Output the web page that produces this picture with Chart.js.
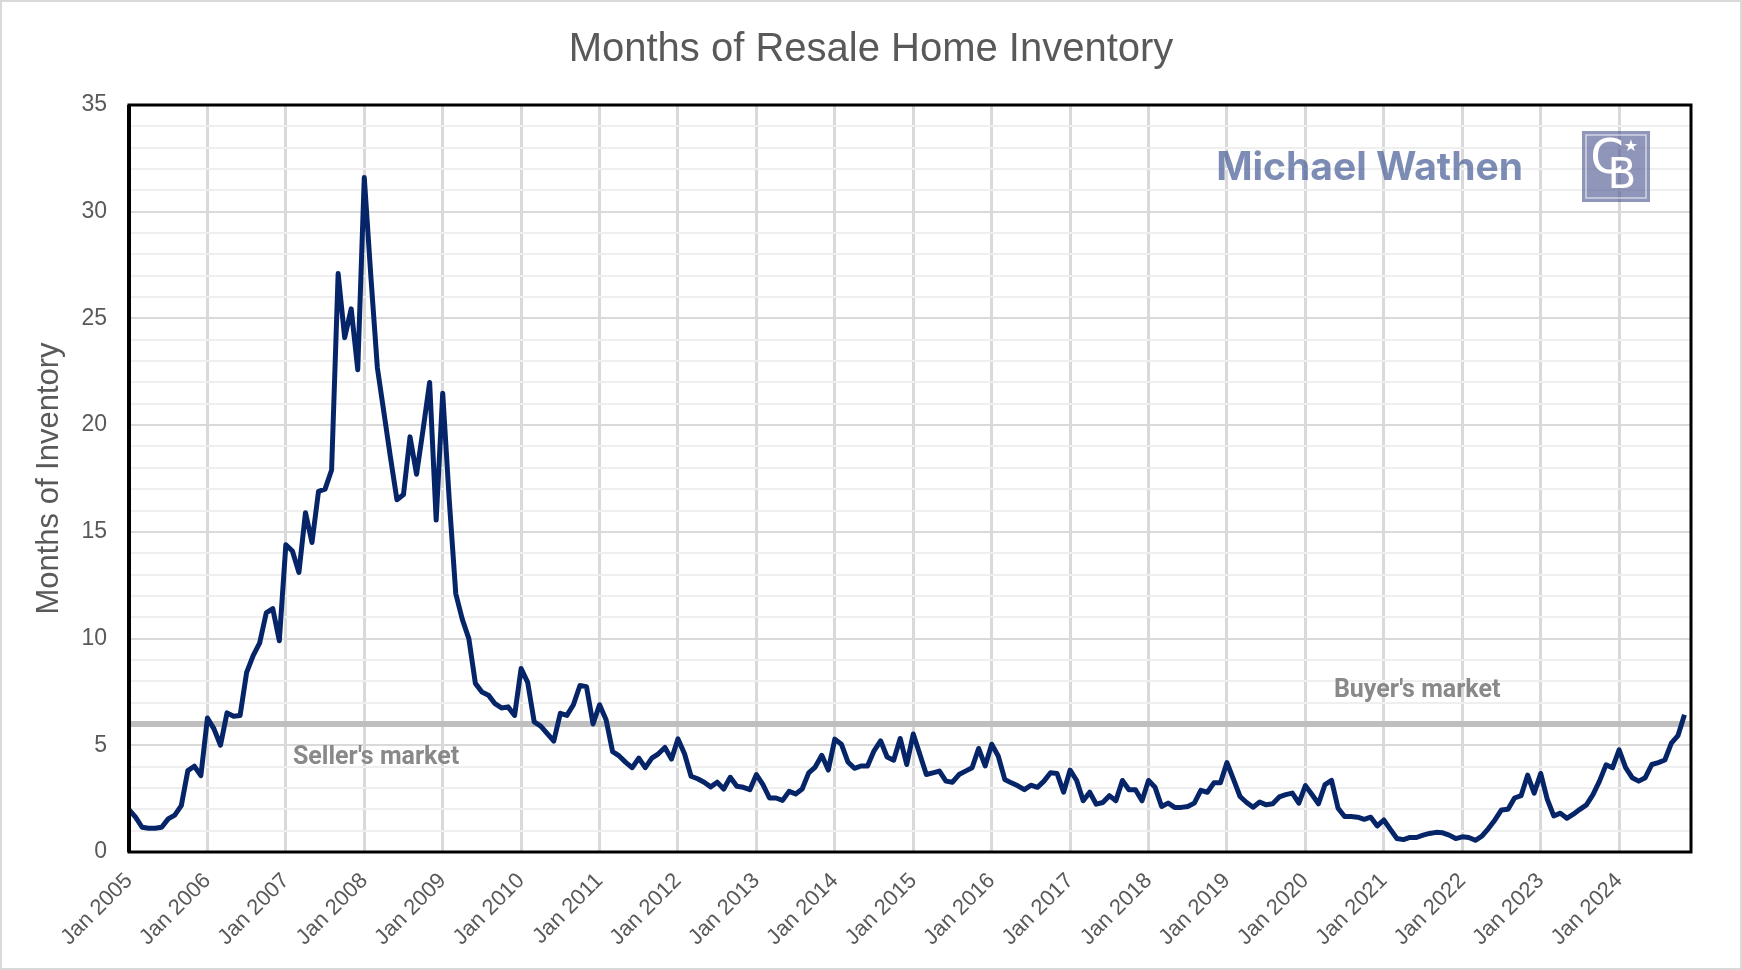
<!DOCTYPE html>
<html>
<head>
<meta charset="utf-8">
<title>Months of Resale Home Inventory</title>
<script src="https://cdn.jsdelivr.net/npm/chart.js@4.4.1/dist/chart.umd.min.js"></script>
<style>
body { margin: 0; background: #fff; }
#wrap { width: 1742px; height: 970px; position: relative; }
</style>
</head>
<body>
<div id="wrap"><canvas id="inventoryGraph" width="1742" height="970"></canvas></div>
<script>
// data, one value per month from Jan 2005
const monthNames = ['Jan','Feb','Mar','Apr','May','Jun','Jul','Aug','Sep','Oct','Nov','Dec'];
const years = [2005,2006,2007,2008,2009,2010,2011,2012,2013,2014,2015,2016,2017,2018,2019,2020,2021,2022,2023,2024];

const inv2005_2009 = [
    1.98, 1.63, 1.16, 1.11, 1.11, 1.16, 1.55, 1.73, 2.17, 3.81, 4.02, 3.58,
    6.28, 5.77, 5.00, 6.52, 6.36, 6.40, 8.42, 9.20, 9.80, 11.2, 11.4, 9.90,
    14.4, 14.1, 13.1, 15.9, 14.5, 16.9, 17.0, 17.9, 27.1, 24.1, 25.45, 22.6,
    31.6, 27.0, 22.7, 20.6, 18.5, 16.5, 16.75, 19.45, 17.7, 19.8, 22.0, 15.55,
    21.5, 16.5, 12.1, 10.9, 10.0, 7.9, 7.5, 7.35, 6.95, 6.75, 6.8, 6.4
];
const inv2010_2014 = [
    8.6, 7.95, 6.1, 5.9, 5.55, 5.2, 6.5, 6.4, 6.9, 7.8, 7.75, 6.0,
    6.9, 6.2, 4.7, 4.5, 4.2, 3.95, 4.4, 3.95, 4.4, 4.6, 4.9, 4.35,
    5.3, 4.6, 3.55, 3.43, 3.27, 3.05, 3.27, 2.95, 3.5, 3.08, 3.03, 2.92,
    3.63, 3.16, 2.53, 2.53, 2.42, 2.84, 2.72, 2.95, 3.71, 3.98, 4.53, 3.84,
    5.29, 5.05, 4.22, 3.92, 4.03, 4.03, 4.74, 5.21, 4.45, 4.3, 5.32, 4.1
];
const inv2015_2019 = [
    5.53, 4.58, 3.63, 3.71, 3.79, 3.32, 3.27, 3.63, 3.79, 3.95, 4.85, 4.03,
    5.05, 4.5, 3.4, 3.24, 3.1, 2.92, 3.13, 3.03, 3.32, 3.71, 3.68, 2.8,
    3.84, 3.35, 2.4, 2.8, 2.24, 2.32, 2.64, 2.4, 3.35, 2.92, 2.92, 2.4,
    3.35, 3.03, 2.13, 2.29, 2.09, 2.09, 2.13, 2.29, 2.89, 2.8, 3.24, 3.24,
    4.19, 3.4, 2.6, 2.32, 2.1, 2.34, 2.21, 2.26, 2.58, 2.69, 2.76, 2.29
];
const inv2020_2024 = [
    3.11, 2.69, 2.26, 3.16, 3.36, 2.05, 1.66, 1.66, 1.63, 1.53, 1.63, 1.22,
    1.5, 1.06, 0.63, 0.58, 0.68, 0.68, 0.79, 0.87, 0.92, 0.9, 0.79, 0.63,
    0.71, 0.68, 0.55, 0.74, 1.1, 1.5, 1.97, 2.0, 2.53, 2.64, 3.6, 2.76,
    3.68, 2.48, 1.69, 1.82, 1.58, 1.77, 2.0, 2.21, 2.69, 3.32, 4.08, 3.95,
    4.79, 3.95, 3.48, 3.32, 3.48, 4.1, 4.19, 4.31, 5.1, 5.45, 6.43
];

const inventory = [].concat(inv2005_2009, inv2010_2014, inv2015_2019, inv2020_2024);

let monthLabels = [];
years.forEach(function(y){
    monthNames.forEach(function(m){ monthLabels.push(m + ' ' + y); });
});

const marketLine = 6;
const sellerNote = { text: "Seller's market", index: 37.8, value: 4.4 };
const buyerNote = { text: "Buyer's market", index: 197.1, value: 7.55 };

// page frame, the 6 month line, labels and logo
const decorations = {
    id: 'decorations',
    beforeDraw(chart) {
        const c = chart.ctx;
        c.save();
        c.fillStyle = '#fff';
        c.fillRect(0, 0, chart.width, chart.height);
        c.strokeStyle = '#d9d9d9';
        c.lineWidth = 2;
        c.strokeRect(1, 1, chart.width - 2, chart.height - 2);
        c.restore();
    },
    beforeDatasetsDraw(chart) {
        const c = chart.ctx, a = chart.chartArea;
        const y = chart.scales.y.getPixelForValue(marketLine);
        c.save();
        c.strokeStyle = '#bfbfbf';
        c.lineWidth = 6;
        c.beginPath();
        c.moveTo(a.left, y);
        c.lineTo(a.right, y);
        c.stroke();
        c.restore();
    },
    afterDraw(chart) {
        const c = chart.ctx, a = chart.chartArea;
        const xs = chart.scales.x, ys = chart.scales.y;
        c.save();

        // plot frame
        c.strokeStyle = '#000';
        c.lineWidth = 3;
        c.strokeRect(a.left, a.top, a.right - a.left, a.bottom - a.top);
        c.lineWidth = 4;
        c.beginPath();
        c.moveTo(a.left, a.top);
        c.lineTo(a.left, a.bottom);
        c.stroke();

        // title
        c.fillStyle = '#595959';
        c.font = '40px "Liberation Sans"';
        c.textAlign = 'center';
        c.textBaseline = 'middle';
        c.fillText('Months of Resale Home Inventory', 871, 50);

        // market notes
        c.fillStyle = '#898989';
        c.font = 'bold 25px Roboto';
        [sellerNote, buyerNote].forEach(function(n){
            c.fillText(n.text, xs.getPixelForValue(n.index), ys.getPixelForValue(n.value));
        });

        // watermark
        c.fillStyle = 'rgba(69,91,148,0.7)';
        c.font = 'bold 39px Inter';
        c.textAlign = 'right';
        c.fillText('Michael Wathen', 1523, 168);

        c.fillStyle = 'rgba(70,80,140,0.6)';
        c.fillRect(1582, 131, 68, 71);
        c.strokeStyle = 'rgba(255,255,255,0.6)';
        c.lineWidth = 1.5;
        c.strokeRect(1586, 135, 60, 63);
        c.fillStyle = '#fff';
        c.textAlign = 'center';
        c.font = '48px "DejaVu Sans"';
        c.fillText('C', 1607, 161);
        c.font = '42px "DejaVu Sans"';
        c.fillText('B', 1622, 177);
        c.font = '16px "DejaVu Sans"';
        c.fillText('\u2605', 1631, 147);
        c.restore();
    }
};

let inventoryChart = document.getElementById('inventoryGraph');

new Chart(inventoryChart, {
    type: 'line',
    data: {
        labels: monthLabels,
        datasets: [{
            label: 'Months of Inventory',
            data: inventory,
            borderColor: '#062568',
            borderWidth: 5,
            borderJoinStyle: 'round',
            pointRadius: 0,
            tension: 0
        }]
    },
    options: {
        responsive: false,
        animation: false,
        layout: { padding: { top: 105, right: 51, left: 0, bottom: 0 } },
        plugins: {
            legend: { display: false },
            tooltip: { enabled: false }
        },
        scales: {
            x: {
                type: 'category',
                offset: false,
                afterBuildTicks: function(axis){
                    axis.ticks = axis.ticks.filter(function(t){ return t.value % 12 === 0; });
                },
                afterFit: function(scale){ scale.height = 118; },
                ticks: {
                    autoSkip: false,
                    maxRotation: 45,
                    minRotation: 45,
                    padding: 16,
                    color: '#595959',
                    font: { family: 'Liberation Sans', size: 22 },
                    callback: function(v){ return this.getLabelForValue(v); }
                },
                grid: { color: '#d9d9d9', lineWidth: 3, drawTicks: false },
                border: { display: false }
            },
            y: {
                min: 0,
                max: 35,
                afterFit: function(scale){ scale.width = 129; },
                ticks: {
                    stepSize: 1,
                    autoSkip: false,
                    padding: 22,
                    color: '#595959',
                    font: { family: 'Liberation Sans', size: 23 },
                    callback: function(v){ return v % 5 === 0 ? v : ''; }
                },
                grid: {
                    drawTicks: false,
                    lineWidth: 2,
                    color: function(ctx){ return ctx.tick.value % 5 === 0 ? '#d9d9d9' : '#efefef'; }
                },
                border: { display: false },
                title: {
                    display: true,
                    text: 'Months of Inventory',
                    color: '#595959',
                    font: { family: 'Liberation Sans', size: 31 },
                    padding: { top: 31, bottom: 0 }
                }
            }
        }
    },
    plugins: [decorations]
});
</script>
</body>
</html>
